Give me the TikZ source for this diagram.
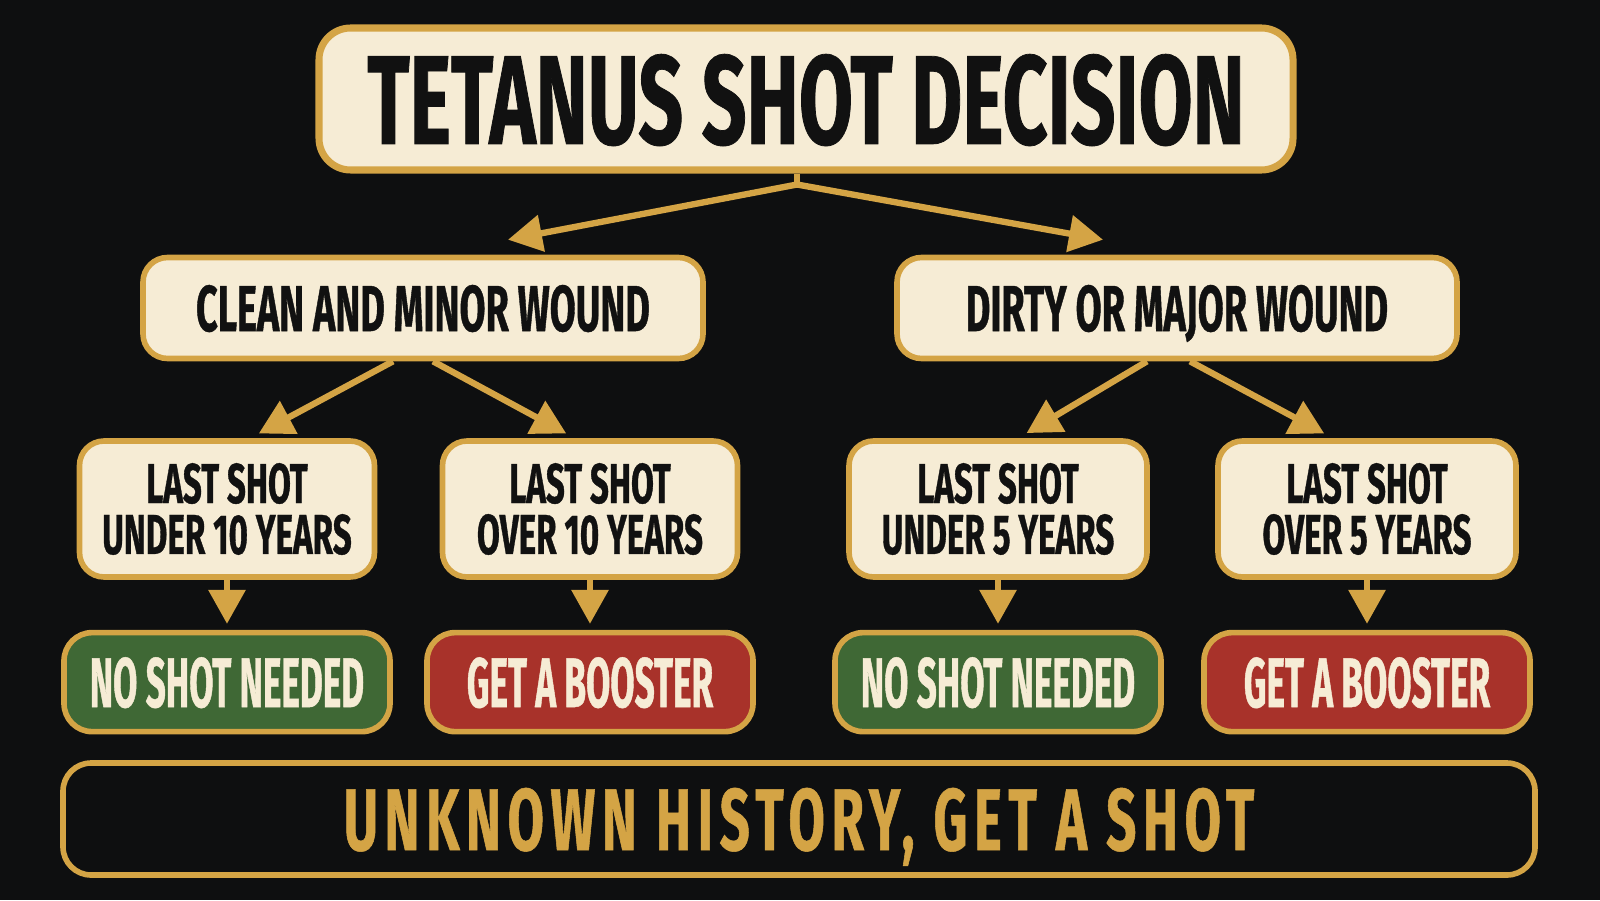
\documentclass[tikz,border=0pt]{standalone}
\usepackage{fontspec}
\newfontfamily\titlefont[FakeStretch=0.62,FakeBold=0.6]{Fira Sans}
\newfontfamily\woundfont[FakeStretch=0.58,FakeBold=0.6]{Fira Sans}
\newfontfamily\lastfont[FakeStretch=0.59,FakeBold=0.6]{Fira Sans}
\newfontfamily\resultfont[FakeStretch=0.5,FakeBold=0.6]{Fira Sans}
\newfontfamily\spacedfont[FakeStretch=0.6,LetterSpace=7.5,FakeBold=0.6]{Fira Sans}
\usetikzlibrary{arrows.meta, positioning}
\definecolor{BoardBlack}{HTML}{0E0F10}
\definecolor{SignGold}{HTML}{D4A445}
\definecolor{SignCream}{HTML}{F6ECD5}
\definecolor{SignGreen}{HTML}{3F6835}
\definecolor{SignRed}{HTML}{A8322A}
\definecolor{InkBlack}{HTML}{111111}
\tikzset{
  titlebox/.style={rectangle, rounded corners=9pt, draw=SignGold, line width=2pt, fill=SignCream, text=InkBlack, minimum width=9.74cm, minimum height=1.42cm, inner sep=0pt, text depth=0pt, font=\titlefont\bfseries\fontsize{36}{40}\selectfont, align=center},
  woundbox/.style={rectangle, rounded corners=7pt, draw=SignGold, line width=1.6pt, fill=SignCream, text=InkBlack, minimum width=5.6cm, minimum height=1.01cm, inner sep=0pt, text depth=0pt, font=\woundfont\bfseries\fontsize{18.5}{20}\selectfont, align=center},
  lastbox/.style={rectangle, rounded corners=7pt, draw=SignGold, line width=1.6pt, fill=SignCream, text=InkBlack, minimum width=2.95cm, minimum height=1.36cm, inner sep=0pt, font=\lastfont\bfseries\fontsize{16}{14.5}\selectfont, align=center},
  okbox/.style={rectangle, rounded corners=8pt, draw=SignGold, line width=1.6pt, fill=SignGreen, text=SignCream, minimum width=3.26cm, minimum height=0.99cm, inner sep=0pt, text depth=0pt, font=\resultfont\bfseries\fontsize{20}{22}\selectfont, align=center},
  boosterbox/.style={okbox, fill=SignRed},
  historybox/.style={rectangle, rounded corners=8pt, draw=SignGold, line width=1.6pt, fill=BoardBlack, text=SignGold, minimum width=14.72cm, minimum height=1.12cm, inner sep=0pt, text depth=0pt, font=\spacedfont\bfseries\fontsize{25}{28}\selectfont, align=center},
  arrow/.style={-{Triangle[length=3.4mm,width=3.6mm]}, line width=1.8pt, SignGold},
  stub/.style={line width=1.8pt, SignGold}
}
\begin{document}
\begin{tikzpicture}
  \fill[BoardBlack] (0,0) rectangle (16,9);
  \useasboundingbox (0,0) rectangle (16,9);

  \node[titlebox] (title) at (8.06,8.01) {TETANUS SHOT DECISION};

  \node[woundbox] (clean) at (4.23,5.92) {CLEAN AND MINOR WOUND};
  \node[woundbox] (dirty) at (11.77,5.92) {DIRTY OR MAJOR WOUND};

  \node[lastbox] (lastA) at (2.27,3.91) {LAST SHOT\\UNDER 10 YEARS};
  \node[lastbox] (lastB) at (5.90,3.91) {LAST SHOT\\OVER 10 YEARS};
  \node[lastbox, minimum width=2.98cm] (lastC) at (9.98,3.91) {LAST SHOT\\UNDER 5 YEARS};
  \node[lastbox, minimum width=2.98cm] (lastD) at (13.67,3.91) {LAST SHOT\\OVER 5 YEARS};

  \node[okbox, below=0.5cm of lastA] (resA) {NO SHOT NEEDED};
  \node[boosterbox, below=0.5cm of lastB] (resB) {GET A BOOSTER};
  \node[okbox, below=0.5cm of lastC] (resC) {NO SHOT NEEDED};
  \node[boosterbox, below=0.5cm of lastD] (resD) {GET A BOOSTER};

  \node[historybox] (history) at (7.99,0.81) {UNKNOWN HISTORY, GET A SHOT};

  % split under the title
  \coordinate (split) at ([xshift=-0.09cm,yshift=-0.11cm]title.south);
  \coordinate (cleantip) at ([xshift=0.85cm,yshift=0.15cm]clean.north);
  \coordinate (dirtytip) at ([xshift=-0.74cm,yshift=0.15cm]dirty.north);
  \draw[stub] ([xshift=-0.09cm]title.south) -- (split);
  \draw[arrow] (split) -- (cleantip);
  \draw[arrow] (split) -- (dirtytip);

  \draw[arrow, shorten >=1mm] ([xshift=-3mm]clean.south) -- ([xshift=2.3mm]lastA.north);
  \draw[arrow, shorten >=1mm] ([xshift=1mm]clean.south) -- ([xshift=-1.5mm]lastB.north);
  \draw[arrow, shorten >=1mm] ([xshift=-3mm]dirty.south) -- ([xshift=2mm]lastC.north);
  \draw[arrow, shorten >=1mm] ([xshift=1.3mm]dirty.south) -- ([xshift=-3.4mm]lastD.north);

  \draw[arrow, shorten >=0.6mm] (lastA) -- (resA);
  \draw[arrow, shorten >=0.6mm] (lastB) -- (resB);
  \draw[arrow, shorten >=0.6mm] (lastC) -- (resC);
  \draw[arrow, shorten >=0.6mm] (lastD) -- (resD);
\end{tikzpicture}
\end{document}
